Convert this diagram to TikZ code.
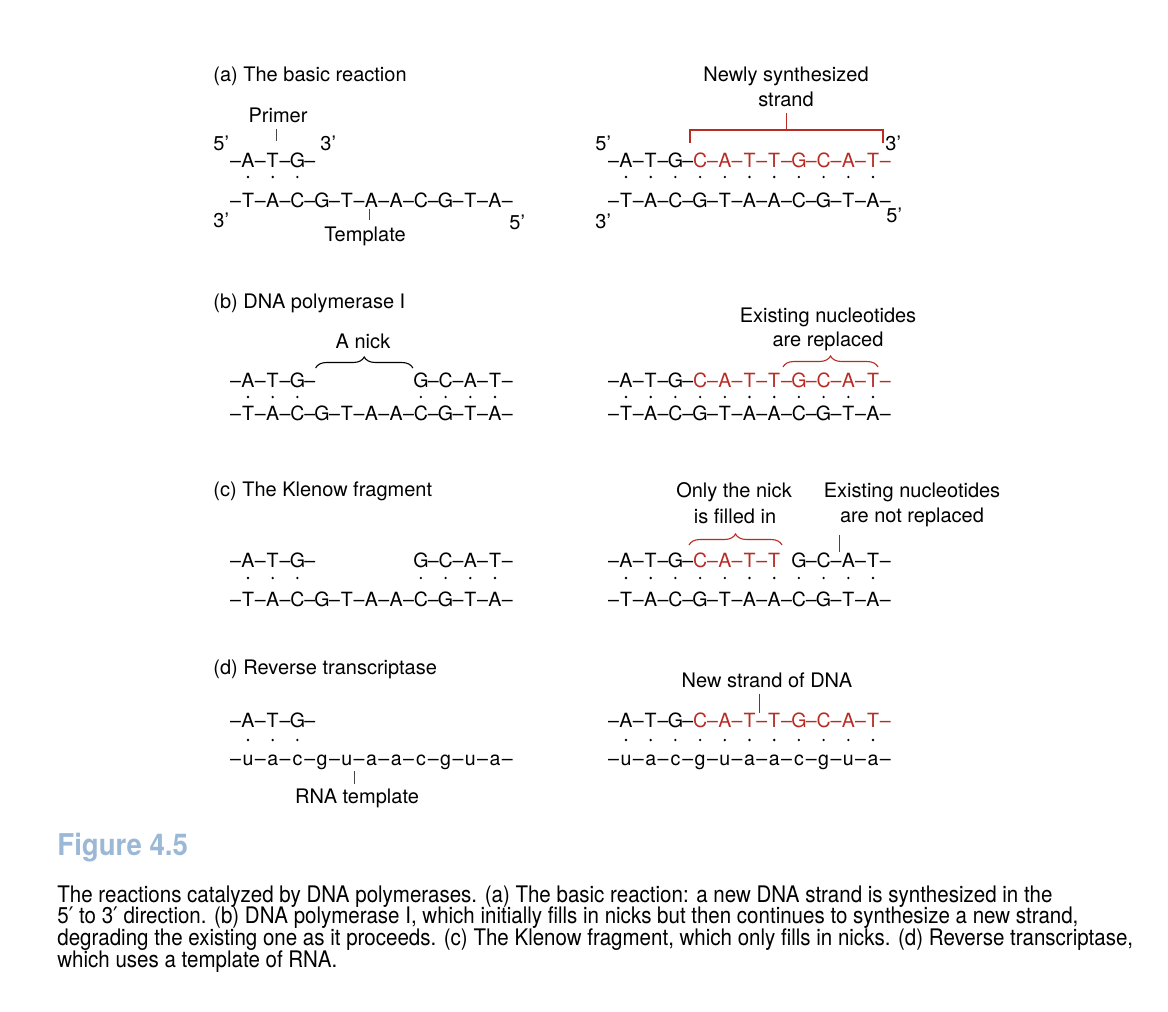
\documentclass[tikz,border=0pt]{standalone}
\usepackage{fontspec}
\setmainfont{TeX Gyre Heros}
\newfontfamily\capfont[FakeStretch=0.9]{TeX Gyre Heros}
\newfontfamily\primefont[FakeStretch=0.9]{DejaVu Sans}
\newfontfamily\figfont[FakeStretch=0.92]{TeX Gyre Heros}
\usepackage{tikz}
\usetikzlibrary{calc,decorations.pathreplacing}
\definecolor{newred}{RGB}{184,44,36}
\definecolor{figblue}{RGB}{155,184,214}
\definecolor{tickgray}{RGB}{70,70,70}

\newcommand{\dd}{\textendash}
\newcommand{\prm}{{\primefont ′}}
% one strand: name, x of first glyph, baseline, colour, glyphs
\newcommand{\strand}[5]{%
  \foreach \g [count=\k from 0] in {#5}
    \node[glyph, text=#4] (#1-\k) at ({#2+\k*12.35},#3) {\g};%
}
% base-pair dots: x of first letter, y, letter indices
\newcommand{\pairdots}[3]{%
  \foreach \i in {#3}
    \fill ({#1+\i*24.7},#2) circle[radius=0.65pt];%
}

\begin{document}
\begin{tikzpicture}[x=0.5pt, y=-0.5pt,
    every node/.style={font=\fontsize{10}{12}\selectfont, inner sep=0pt},
    glyph/.style={anchor=base, font=\fontsize{9.8}{12}\selectfont},
    lbl/.style={anchor=base},
    lblw/.style={anchor=base west},
    caption/.style={anchor=base west, font=\capfont\fontsize{11.4}{11.4}\selectfont},
    tick/.style={draw=tickgray, line width=0.5pt},
    redline/.style={draw=newred, line width=0.6pt},
    nick/.style={decorate, decoration={brace, amplitude=5.5pt}, line width=0.55pt}]
  \fill[white] (0,0) rectangle (1168,1012);
  \useasboundingbox (0,0) rectangle (1168,1012);

  % (a) The basic reaction
  \node[lblw] (titleA) at (213,81) {(a) The basic reaction};
  \node[lbl] (primer) at (278,122) {Primer};
  \draw[tick] (primer.south) ++(-2,6) -- ++(0,12);
  \node[lblw] (aL5) at (213,150) {5’};
  \node[lblw] (aL3) at (320,150) {3’};
  \strand{aLt}{235.65}{167}{black}{\dd,A,\dd,T,\dd,G,\dd}
  \pairdots{248}{177}{0,1,2}
  \strand{aLb}{235.65}{207}{black}{\dd,T,\dd,A,\dd,C,\dd,G,\dd,T,\dd,A,\dd,A,\dd,C,\dd,G,\dd,T,\dd,A,\dd}
  \node[lblw] (aL3b) at (213,227) {3’};
  \node[lblw] (aL5b) at (509,229) {5’};
  \node[lbl] (template) at (365,241) {Template};
  \draw[tick] (template.north) ++(4,-17) -- ++(0,11);

  \node[lbl] (newly) at (786,81) {Newly synthesized};
  \node[lbl] (newly2) at (786,106) {strand};
  \node[lblw] (aR5) at (595,150) {5’};
  \node[lblw] (aR3) at (885,150) {3’};
  \strand{aRt}{613.65}{167}{black}{\dd,A,\dd,T,\dd,G,\dd}
  \strand{aRn}{700.1}{167}{newred}{C,\dd,A,\dd,T,\dd,T,\dd,G,\dd,C,\dd,A,\dd,T,\dd}
  \pairdots{626}{177}{0,...,10}
  \strand{aRb}{613.65}{207}{black}{\dd,T,\dd,A,\dd,C,\dd,G,\dd,T,\dd,A,\dd,A,\dd,C,\dd,G,\dd,T,\dd,A,\dd}
  \node[lblw] (aR3b) at (595,228) {3’};
  \node[lblw] (aR5b) at (886,222) {5’};
  \coordinate (brL) at (690,143);
  \coordinate (brR) at (883,143);
  \draw[redline] (brL) -- ++(0,-13) -| (brR);
  \draw[redline] ($(brL)!0.5!(brR)+(0,-13)$) -- ++(0,-17);

  % (b) DNA polymerase I
  \node[lblw] (titleB) at (213,308) {(b) DNA polymerase I};
  \node[lbl] (nickB) at (363,348) {A nick};
  \strand{bLt}{235.65}{387}{black}{\dd,A,\dd,T,\dd,G,\dd}
  \strand{bLr}{420.9}{387}{black}{G,\dd,C,\dd,A,\dd,T,\dd}
  \pairdots{248}{397}{0,1,2,7,8,9,10}
  \strand{bLb}{235.65}{420}{black}{\dd,T,\dd,A,\dd,C,\dd,G,\dd,T,\dd,A,\dd,A,\dd,C,\dd,G,\dd,T,\dd,A,\dd}
  \draw[nick] (bLt-6.east |- 0,368) -- (bLr-0.west |- 0,368);

  \node[lbl] (exB) at (828,322) {Existing nucleotides};
  \node[lbl] (exB2) at (828,346) {are replaced};
  \strand{bRt}{613.65}{387}{black}{\dd,A,\dd,T,\dd,G,\dd}
  \strand{bRn}{700.1}{387}{newred}{C,\dd,A,\dd,T,\dd,T,\dd,G,\dd,C,\dd,A,\dd,T,\dd}
  \pairdots{626}{397}{0,...,10}
  \strand{bRb}{613.65}{420}{black}{\dd,T,\dd,A,\dd,C,\dd,G,\dd,T,\dd,A,\dd,A,\dd,C,\dd,G,\dd,T,\dd,A,\dd}
  \draw[nick, newred] (783,367) -- (878,367);

  % (c) The Klenow fragment
  \node[lblw] (titleC) at (213,496) {(c) The Klenow fragment};
  \strand{cLt}{235.65}{567}{black}{\dd,A,\dd,T,\dd,G,\dd}
  \strand{cLr}{420.9}{567}{black}{G,\dd,C,\dd,A,\dd,T,\dd}
  \pairdots{248}{578}{0,1,2,7,8,9,10}
  \strand{cLb}{235.65}{606}{black}{\dd,T,\dd,A,\dd,C,\dd,G,\dd,T,\dd,A,\dd,A,\dd,C,\dd,G,\dd,T,\dd,A,\dd}

  \node[lbl] (onlyC) at (734,497) {Only the nick};
  \node[lbl] (onlyC2) at (735,523) {is filled in};
  \node[lbl] (exC) at (912,497) {Existing nucleotides};
  \node[lbl] (exC2) at (912,522) {are not replaced};
  \draw[tick] (exC2.south west) ++(0,8) -- ++(0,17);
  \strand{cRt}{613.65}{567}{black}{\dd,A,\dd,T,\dd,G,\dd}
  \strand{cRn}{700.1}{567}{newred}{C,\dd,A,\dd,T,\dd,T}
  \strand{cRr}{798.9}{567}{black}{G,\dd,C,\dd,A,\dd,T,\dd}
  \pairdots{626}{578}{0,...,10}
  \strand{cRb}{613.65}{606}{black}{\dd,T,\dd,A,\dd,C,\dd,G,\dd,T,\dd,A,\dd,A,\dd,C,\dd,G,\dd,T,\dd,A,\dd}
  \draw[nick, newred] (689,545) -- (782,545);

  % (d) Reverse transcriptase
  \node[lblw] (titleD) at (213,674) {(d) Reverse transcriptase};
  \strand{dLt}{235.65}{727}{black}{\dd,A,\dd,T,\dd,G,\dd}
  \pairdots{248}{740}{0,1,2}
  \strand{dLb}{235.65}{765}{black}{\dd,u,\dd,a,\dd,c,\dd,g,\dd,u,\dd,a,\dd,a,\dd,c,\dd,g,\dd,u,\dd,a,\dd}
  \node[lbl] (rnaT) at (357,803) {RNA template};
  \draw[tick] (rnaT.north) ++(-3,-17) -- ++(0,13);

  \node[lbl] (newD) at (767,687) {New strand of DNA};
  \draw[tick] (newD.south) ++(-8,6) -- ++(0,19);
  \strand{dRt}{613.65}{727}{black}{\dd,A,\dd,T,\dd,G,\dd}
  \strand{dRn}{700.1}{727}{newred}{C,\dd,A,\dd,T,\dd,T,\dd,G,\dd,C,\dd,A,\dd,T,\dd}
  \pairdots{626}{740}{0,...,10}
  \strand{dRb}{613.65}{765}{black}{\dd,u,\dd,a,\dd,c,\dd,g,\dd,u,\dd,a,\dd,a,\dd,c,\dd,g,\dd,u,\dd,a,\dd}

  % Caption
  \node[lblw, font=\figfont\bfseries\fontsize{15}{15}\selectfont, text=figblue] (figlabel) at (57,855) {Figure 4.5};
  \node[caption] (cap1) at (57,902) {The reactions catalyzed by DNA polymerases. (a) The basic reaction: a new DNA strand is synthesized in the};
  \node[caption] (cap2) at (57,923.5) {5\prm\ to 3\prm\ direction. (b) DNA polymerase I, which initially fills in nicks but then continues to synthesize a new strand,};
  \node[caption] (cap3) at (57,945) {degrading the existing one as it proceeds. (c) The Klenow fragment, which only fills in nicks. (d) Reverse transcriptase,};
  \node[caption] (cap4) at (57,967) {which uses a template of RNA.};
\end{tikzpicture}
\end{document}
